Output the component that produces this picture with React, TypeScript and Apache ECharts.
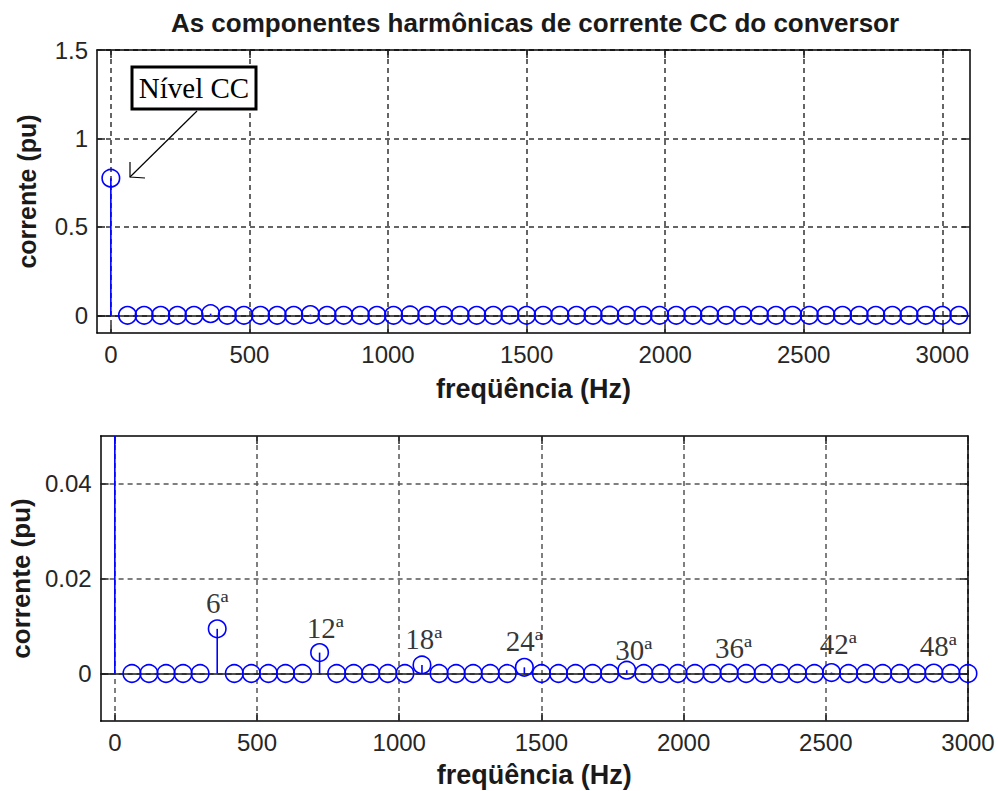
import React, { useEffect, useRef } from "react";
import * as echarts from "echarts";

// Frequencies (Hz) of the spectrum lines
const freqs = [
  0, 60, 120, 180, 240, 300, 360, 420, 480, 540, 600, 660, 720, 780, 840, 900,
  960, 1020, 1080, 1140, 1200, 1260, 1320, 1380, 1440, 1500, 1560, 1620, 1680,
  1740, 1800, 1860, 1920, 1980, 2040, 2100, 2160, 2220, 2280, 2340, 2400, 2460,
  2520, 2580, 2640, 2700, 2760, 2820, 2880, 2940, 3000, 3060,
];
// Current amplitude (pu) at each frequency
const currents = [
  0.775, 0, 0, 0, 0, 0, 0.0094, 0, 0, 0, 0, 0, 0.0044, 0, 0, 0, 0, 0, 0.0018, 0,
  0, 0, 0, 0, 0.0013, 0, 0, 0, 0, 0, 0.0007, 0, 0, 0, 0, 0, 0.0001, 0, 0, 0, 0,
  0, 0.0002, 0, 0, 0, 0, 0, 0.0001, 0, 0, 0,
];
// bottom plot shows lines up to 3000 Hz
const bottomCount = 51;

// Harmonic annotations of the bottom plot
const harmonicNames = ["6ª", "12ª", "18ª", "24ª", "30ª", "36ª", "42ª", "48ª"];
const harmonicLabelFreq = [360, 740, 1086, 1440, 1825, 2175, 2544, 2895];
const harmonicLabelLevel = [0.0149, 0.0095, 0.0072, 0.0068, 0.0049, 0.0053, 0.0062, 0.0058];

// Tick values
const xTicksTop = [0, 500, 1000, 1500, 2000, 2500, 3000];
const xTicksBottom = [0, 500, 1000, 1500, 2000, 2500, 3000];
const yTicksTop = [0, 0.5, 1, 1.5];
const yTicksBottom = [0, 0.02, 0.04];

const TITLE = "As componentes harmônicas de corrente CC do conversor";
const X_NAME = "freqüência (Hz)";
const Y_NAME = "corrente (pu)";
const ANNOT = "Nível CC";

const BLUE = "#0000ff";
const SANS = "Liberation Sans, Arial, sans-serif";
const SERIF = "Liberation Serif, Times New Roman, serif";

function makeAxes(
  gridIndex: number,
  xMin: number,
  xMax: number,
  yMin: number,
  yMax: number,
  xTicks: number[],
  yTicks: number[],
  gridColor: string,
  xNameGap: number,
  yNameGap: number,
  yNameSize: number
) {
  const lineStyle = { color: "#000", width: 1.5 };
  const tickStyle = { color: "#222", width: 1.5 };
  const labelStyle = {
    fontFamily: SANS,
    fontSize: 24,
    color: "#262626",
    formatter: (v: number) => String(v),
  };
  const splitStyle = { color: gridColor, width: 1.5, type: [5, 4] };
  const xAxes = [
    {
      gridIndex,
      type: "value",
      min: xMin,
      max: xMax,
      position: "bottom",
      axisLine: { show: true, onZero: false, lineStyle },
      axisTick: { show: true, inside: true, length: 8, customValues: xTicks, lineStyle: tickStyle },
      axisLabel: { customValues: xTicks, margin: 9, ...labelStyle },
      splitLine: { show: true, lineStyle: splitStyle },
      name: X_NAME,
      nameLocation: "middle",
      nameGap: xNameGap,
      nameTextStyle: { fontFamily: SANS, fontSize: 27, fontWeight: "bold", color: "#1a1a1a" },
    },
    {
      gridIndex,
      type: "value",
      min: xMin,
      max: xMax,
      position: "top",
      axisLine: { show: true, onZero: false, lineStyle },
      axisTick: { show: true, inside: true, length: 8, customValues: xTicks, lineStyle: tickStyle },
      axisLabel: { show: false },
      splitLine: { show: false },
    },
  ];
  const yAxes = [
    {
      gridIndex,
      type: "value",
      min: yMin,
      max: yMax,
      position: "left",
      axisLine: { show: true, onZero: false, lineStyle },
      axisTick: { show: true, inside: true, length: 8, customValues: yTicks, lineStyle: tickStyle },
      axisLabel: { customValues: yTicks, margin: 9, ...labelStyle },
      splitLine: { show: true, lineStyle: splitStyle },
      name: Y_NAME,
      nameLocation: "middle",
      nameGap: yNameGap,
      nameTextStyle: { fontFamily: SANS, fontSize: yNameSize, fontWeight: "bold", color: "#1a1a1a" },
    },
    {
      gridIndex,
      type: "value",
      min: yMin,
      max: yMax,
      position: "right",
      axisLine: { show: true, onZero: false, lineStyle },
      axisTick: { show: true, inside: true, length: 8, customValues: yTicks, lineStyle: tickStyle },
      axisLabel: { show: false },
      splitLine: { show: false },
    },
  ];
  return { xAxes, yAxes };
}

function stemSeries(axisIndex: number, data: number[][]) {
  return [
    {
      type: "custom",
      xAxisIndex: axisIndex,
      yAxisIndex: axisIndex,
      data,
      encode: { x: 0, y: 1 },
      z: 3,
      renderItem: (params: any, api: any) => {
        const x = api.value(0);
        const y = api.value(1);
        const p0 = api.coord([x, 0]);
        const p1 = api.coord([x, y]);
        const cs = params.coordSys;
        const y2 = Math.max(p1[1], cs.y);
        return {
          type: "line",
          shape: { x1: p0[0], y1: p0[1], x2: p1[0], y2 },
          style: { stroke: BLUE, lineWidth: 1.6 },
        };
      },
    },
    {
      type: "scatter",
      xAxisIndex: axisIndex,
      yAxisIndex: axisIndex,
      data,
      symbol: "circle",
      symbolSize: 17.5,
      clip: false,
      z: 4,
      itemStyle: { color: "rgba(0,0,0,0)", borderColor: BLUE, borderWidth: 1.6, opacity: 1 },
      emphasis: { disabled: true },
      markLine: {
        silent: true,
        symbol: "none",
        label: { show: false },
        lineStyle: { color: "#1a1a1a", type: "solid", width: 1.6 },
        data: [{ yAxis: 0 }],
        z: 2,
      },
    },
  ];
}

export default function App() {
  const ref = useRef<HTMLDivElement>(null);

  useEffect(() => {
    if (!ref.current) return;
    const chart = echarts.init(ref.current, undefined, { renderer: "svg" });

    const top = makeAxes(0, -50, 3100, -0.1, 1.5, xTicksTop, yTicksTop, "#333", 42, 58, 25);
    const bot = makeAxes(1, -50, 3000, -0.01, 0.05, xTicksBottom, yTicksBottom, "#555", 40, 58, 26);

    const topData = freqs.map((f, i) => [f, currents[i]]);
    const botData = freqs.slice(0, bottomCount).map((f, i) => [f, currents[i]]);
    const labelData = harmonicNames.map((n, i) => [harmonicLabelFreq[i], harmonicLabelLevel[i], n]);

    const option: any = {
      animation: false,
      backgroundColor: "#fff",
      title: {
        text: TITLE,
        left: 530,
        top: 5,
        textAlign: "center",
        textStyle: { fontFamily: SANS, fontSize: 26, fontWeight: "bold", color: "#1a1a1a" },
      },
      grid: [
        { left: 97, top: 50, width: 873, height: 283 },
        { left: 97, top: 436, width: 871, height: 285 },
      ],
      xAxis: [...top.xAxes, ...bot.xAxes],
      yAxis: [...top.yAxes, ...bot.yAxes],
      series: [
        ...stemSeries(0, topData),
        ...stemSeries(2, botData),
        {
          type: "scatter",
          xAxisIndex: 2,
          yAxisIndex: 2,
          data: labelData,
          symbolSize: 0,
          silent: true,
          z: 5,
          label: {
            show: true,
            position: "inside",
            formatter: (p: any) => p.value[2],
            fontFamily: SERIF,
            fontSize: 29,
            color: "#000",
          },
        },
      ],
      graphic: [
        {
          type: "line",
          shape: { x1: 197, y1: 111, x2: 130, y2: 177 },
          style: { stroke: "#000", lineWidth: 1.2 },
          z: 10,
        },
        {
          type: "polyline",
          shape: { points: [[145, 178], [130, 177], [130, 162]] },
          style: { stroke: "#000", lineWidth: 1.2, fill: "none" },
          z: 10,
        },
        {
          type: "rect",
          shape: { x: 132, y: 67, width: 124, height: 42 },
          style: { fill: "#fff", stroke: "#000", lineWidth: 3 },
          z: 10,
        },
        {
          type: "text",
          x: 194,
          y: 88,
          style: {
            text: ANNOT,
            fontFamily: SERIF,
            fontSize: 29,
            fill: "#000",
            align: "center",
            verticalAlign: "middle",
          },
          z: 11,
        },
      ],
    };
    chart.setOption(option);
    return () => chart.dispose();
  }, []);

  return (
    <div
      ref={ref}
      style={{ position: "fixed", left: 0, top: 0, width: 998, height: 791 }}
    />
  );
}
